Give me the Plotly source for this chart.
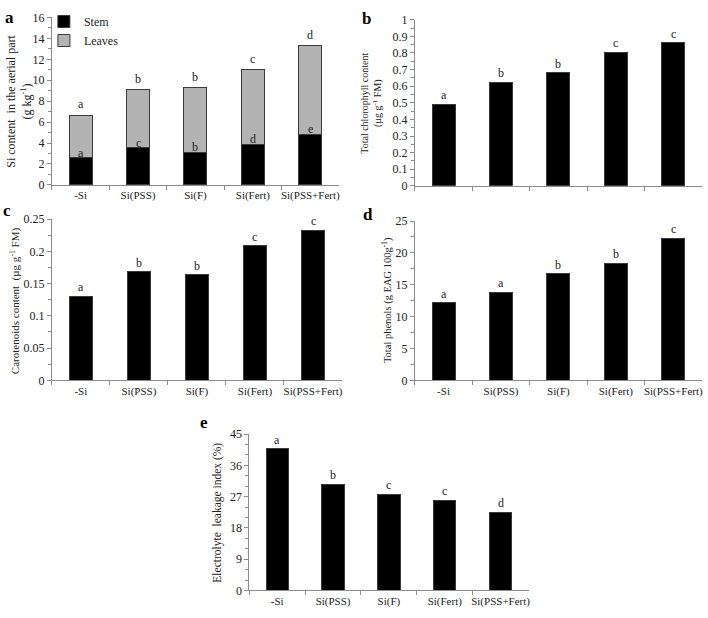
import plotly.graph_objects as go

W, H = 708, 618
categories = ["-Si", "Si(PSS)", "Si(F)", "Si(Fert)", "Si(PSS+Fert)"]

# Panel a
si_stem = [2.6, 3.55, 3.1, 3.9, 4.85]
si_total = [6.65, 9.1, 9.3, 11.0, 13.3]
si_leaves = [t - s for t, s in zip(si_total, si_stem)]
si_stem_letters = ["a", "c", "b", "d", "e"]
si_total_letters = ["a", "b", "b", "c", "d"]

# Panel b
chlorophyll = [0.49, 0.625, 0.68, 0.805, 0.86]
chlorophyll_letters = ["a", "b", "b", "c", "c"]

# Panel c
carotenoids = [0.13, 0.168, 0.164, 0.209, 0.233]
carotenoids_letters = ["a", "b", "b", "c", "c"]

# Panel d
phenols = [12.2, 13.8, 16.7, 18.4, 22.3]
phenols_letters = ["a", "a", "b", "b", "c"]

# Panel e
leakage = [40.8, 30.5, 27.7, 26.0, 22.5]
leakage_letters = ["a", "b", "c", "c", "d"]

FONT = "Liberation Serif, Times New Roman, serif"
AX = "#8c8c8c"
TXT = "#222222"

fig = go.Figure()

def px_dom_x(a, b):
    return [a / W, b / W]

def px_dom_y(top, bottom):
    return [1 - bottom / H, 1 - top / H]

panels = {
    1: dict(x=(52, 340), y=(10.7, 182), rng=[0, 16], dtick=2, minor=1, labels=True),
    2: dict(x=(416, 704), y=(13, 183), rng=[0, 1], dtick=0.1, minor=0.05, labels=False),
    3: dict(x=(52, 343), y=(217, 382), rng=[0, 0.25], dtick=0.05, minor=0.025, labels=True),
    4: dict(x=(416, 704), y=(219, 382), rng=[0, 25], dtick=5, minor=2.5, labels=True),
    5: dict(x=(250, 530), y=(437, 597), rng=[0, 45], dtick=9, minor=3, labels=True),
}

bar_line = dict(color="#3a3a3a", width=1)

# Panel a stacked
fig.add_trace(go.Bar(x=categories, y=si_stem, name="Stem", marker=dict(color="black", line=bar_line),
                     width=0.4, xaxis="x", yaxis="y", showlegend=True))
fig.add_trace(go.Bar(x=categories, y=si_leaves, name="Leaves", marker=dict(color="#b3b3b3", line=bar_line),
                     width=0.4, xaxis="x", yaxis="y", showlegend=True))

single = [(2, chlorophyll), (3, carotenoids), (4, phenols), (5, leakage)]
for i, vals in single:
    fig.add_trace(go.Bar(x=categories, y=vals, marker=dict(color="black", line=bar_line),
                         width=0.4, xaxis=f"x{i}", yaxis=f"y{i}", showlegend=False))

layout = dict(
    width=W, height=H, margin=dict(l=0, r=0, t=0, b=0),
    paper_bgcolor="white", plot_bgcolor="white",
    barmode="stack", bargap=0.6,
    font=dict(family=FONT, size=12, color=TXT),
    showlegend=True,
    legend=dict(x=44 / W, y=1.0, xanchor="left", yanchor="top",
                font=dict(family=FONT, size=12, color=TXT), bgcolor="rgba(0,0,0,0)",
                itemwidth=30, tracegroupgap=0, traceorder="normal"),
)

for i, p in panels.items():
    xs = "" if i == 1 else str(i)
    layout[f"xaxis{xs}"] = dict(
        domain=px_dom_x(*p["x"]), anchor=f"y{xs}", type="category",
        showline=True, linecolor=AX, linewidth=1,
        ticks="outside", ticklen=4, tickcolor=AX, tickson="boundaries",
        showticklabels=p["labels"], tickangle=0, tickfont=dict(family=FONT, size=11, color=TXT),
        showgrid=False, zeroline=False, range=[-0.5, 4.5],
    )
    layout[f"yaxis{xs}"] = dict(
        domain=px_dom_y(*p["y"]), anchor=f"x{xs}", range=p["rng"], dtick=p["dtick"],
        showline=True, linecolor=AX, linewidth=1,
        ticks="outside", ticklen=4, tickcolor=AX,
        minor=dict(dtick=p["minor"], ticks="outside", ticklen=3, tickcolor=AX, showgrid=False),
        tickfont=dict(family=FONT, size=12, color=TXT),
        showgrid=False, zeroline=False,
    )

fig.update_layout(**layout)

annotations = []

def letters(axis_id, vals, labs, shift=9):
    xs = "" if axis_id == 1 else str(axis_id)
    for c, v, l in zip(categories, vals, labs):
        annotations.append(dict(x=c, y=v, xref=f"x{xs}", yref=f"y{xs}", text=l, showarrow=False,
                                yshift=shift, font=dict(family=FONT, size=12, color=TXT)))

letters(1, si_stem, si_stem_letters, shift=5)
letters(1, si_total, si_total_letters, shift=11)
letters(2, chlorophyll, chlorophyll_letters)
letters(3, carotenoids, carotenoids_letters)
letters(4, phenols, phenols_letters)
letters(5, leakage, leakage_letters)

# panel letters
for txt, x, y in [("a", 10, 11), ("b", 368, 12), ("c", 7, 208), ("d", 369, 212), ("e", 205, 425)]:
    annotations.append(dict(x=x / W, y=1 - y / H, xref="paper", yref="paper", text=f"<b>{txt}</b>",
                            xanchor="center", yanchor="middle",
                            showarrow=False, font=dict(family=FONT, size=17, color="black")))

# y axis titles
ytitles = [
    ("Si content  in the aerial part<br>(g kg<sup>-1</sup>)", 19, 96, 12),
    ("Total chlorophyll content<br>(µg g<sup>-1</sup> FM)", 373, 98, 10),
    ("Carotenoids content  (µg g<sup>-1</sup> FM)", 15, 300, 11),
    ("Total phenols (g EAG 100g<sup>-1</sup>)", 388, 300, 10.5),
    ("Electrolyte  leakage index (%)", 218, 517, 11.5),
]
for txt, x, y, s in ytitles:
    annotations.append(dict(x=x / W, y=1 - y / H, xref="paper", yref="paper", text=txt, textangle=-90,
                            xanchor="center", yanchor="middle",
                            showarrow=False, font=dict(family=FONT, size=s, color=TXT)))

fig.update_layout(annotations=annotations)
fig.write_html("out.html", config={"displayModeBar": False},
               post_script="document.body.style.margin='0';document.body.style.overflow='hidden';")
